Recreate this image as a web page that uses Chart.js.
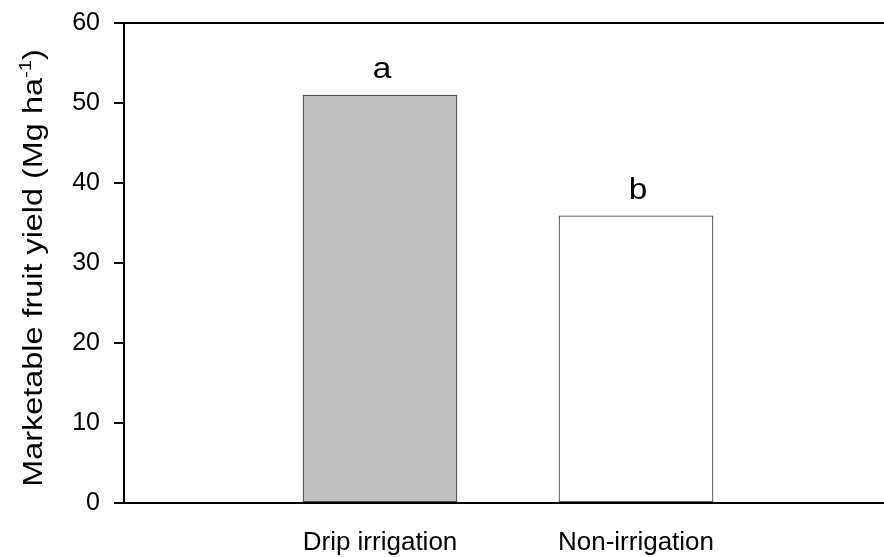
<!DOCTYPE html>
<html>
<head>
<meta charset="utf-8">
<script src="https://cdn.jsdelivr.net/npm/chart.js@4/dist/chart.umd.min.js"></script>
<style>
html,body{margin:0;padding:0;background:#fff;}
#wrap{width:884px;height:557px;position:relative;}
</style>
</head>
<body>
<div id="wrap"><canvas id="c" width="884" height="557"></canvas></div>
<script>
// ---- data ----
const categories = ['Drip irrigation', 'Non-irrigation'];
const categoryPositions = [1, 2];
const yieldValues = [51.0, 35.9];
const significanceLetters = ['a', 'b'];
const barColors = ['#c0c0c0', '#ffffff'];
const yTicks = [0, 10, 20, 30, 40, 50, 60];
const yTitleMain = 'Marketable fruit yield (Mg ha';
const yTitleSup = '-1';
const yTitleEnd = ')';

const FONT = "'Liberation Sans', Arial, Helvetica, sans-serif";

const topLine = {
  id: 'topLine',
  afterDraw(chart) {
    const {ctx, chartArea} = chart;
    ctx.save();
    ctx.strokeStyle = '#000';
    ctx.lineWidth = 2;
    ctx.beginPath();
    ctx.moveTo(chartArea.left - 1, chartArea.top);
    ctx.lineTo(chartArea.right, chartArea.top);
    ctx.stroke();
    ctx.restore();
  }
};

const letters = {
  id: 'letters',
  afterDatasetsDraw(chart) {
    const {ctx} = chart;
    const meta = chart.getDatasetMeta(0);
    ctx.save();
    ctx.fillStyle = '#000';
    ctx.font = '29px ' + FONT;
    ctx.textAlign = 'center';
    ctx.textBaseline = 'alphabetic';
    meta.data.forEach((bar, i) => {
      ctx.save();
      ctx.translate(bar.x + 2, bar.y - 17);
      ctx.scale(1.15, 1);
      ctx.fillText(significanceLetters[i], 0, 0);
      ctx.restore();
    });
    ctx.restore();
  }
};

const yTitle = {
  id: 'yTitle',
  afterDraw(chart) {
    const {ctx} = chart;
    const sx = 1.2;
    ctx.save();
    ctx.fillStyle = '#000';
    ctx.textBaseline = 'alphabetic';
    ctx.textAlign = 'left';
    ctx.font = '27px ' + FONT;
    const w1 = ctx.measureText(yTitleMain).width;
    const w3 = ctx.measureText(yTitleEnd).width;
    ctx.font = '17px ' + FONT;
    const w2 = ctx.measureText(yTitleSup).width;
    const total = (w1 + w2 + w3) * sx;
    ctx.translate(42, 268 + total / 2);
    ctx.rotate(-Math.PI / 2);
    ctx.scale(sx, 1);
    ctx.font = '27px ' + FONT;
    ctx.fillText(yTitleMain, 0, 0);
    ctx.font = '17px ' + FONT;
    ctx.fillText(yTitleSup, w1, -11);
    ctx.font = '27px ' + FONT;
    ctx.fillText(yTitleEnd, w1 + w2, 0);
    ctx.restore();
  }
};

new Chart(document.getElementById('c'), {
  type: 'bar',
  data: {
    datasets: [{
      data: categoryPositions.map((x, i) => ({x: x, y: yieldValues[i]})),
      backgroundColor: barColors,
      borderColor: '#2a2a2a',
      borderWidth: 1,
      borderSkipped: false,
      barThickness: 154
    }]
  },
  options: {
    responsive: false,
    animation: false,
    devicePixelRatio: 1,
    layout: {padding: {top: 23, right: 0, left: 0, bottom: 0}},
    plugins: {legend: {display: false}, tooltip: {enabled: false}},
    scales: {
      x: {
        type: 'linear',
        offset: false,
        bounds: 'data',
        min: 0,
        max: 760 / 256,
        afterBuildTicks(scale) { scale.ticks = categoryPositions.map(v => ({value: v})); },
        afterFit(scale) { scale.height = 54; scale.paddingLeft = 0; scale.paddingRight = 0; },
        grid: {display: false},
        border: {display: true, color: '#000', width: 2},
        ticks: {
          color: '#000',
          font: {family: FONT, size: 26},
          padding: 16,
          maxRotation: 0,
          autoSkip: false,
          callback(v) { const i = categoryPositions.indexOf(v); return i >= 0 ? categories[i] : ''; }
        }
      },
      y: {
        min: 0,
        max: 60,
        afterBuildTicks(scale) { scale.ticks = yTicks.map(v => ({value: v})); },
        afterFit(scale) { scale.width = 124; scale.paddingTop = 0; scale.paddingBottom = 0; },
        grid: {drawOnChartArea: false, drawTicks: true, tickLength: 10, color: '#000', lineWidth: 2},
        border: {display: true, color: '#000', width: 2},
        ticks: {
          color: '#000',
          font: {family: FONT, size: 25},
          padding: 14
        }
      }
    }
  },
  plugins: [topLine, letters, yTitle]
});
</script>
</body>
</html>
